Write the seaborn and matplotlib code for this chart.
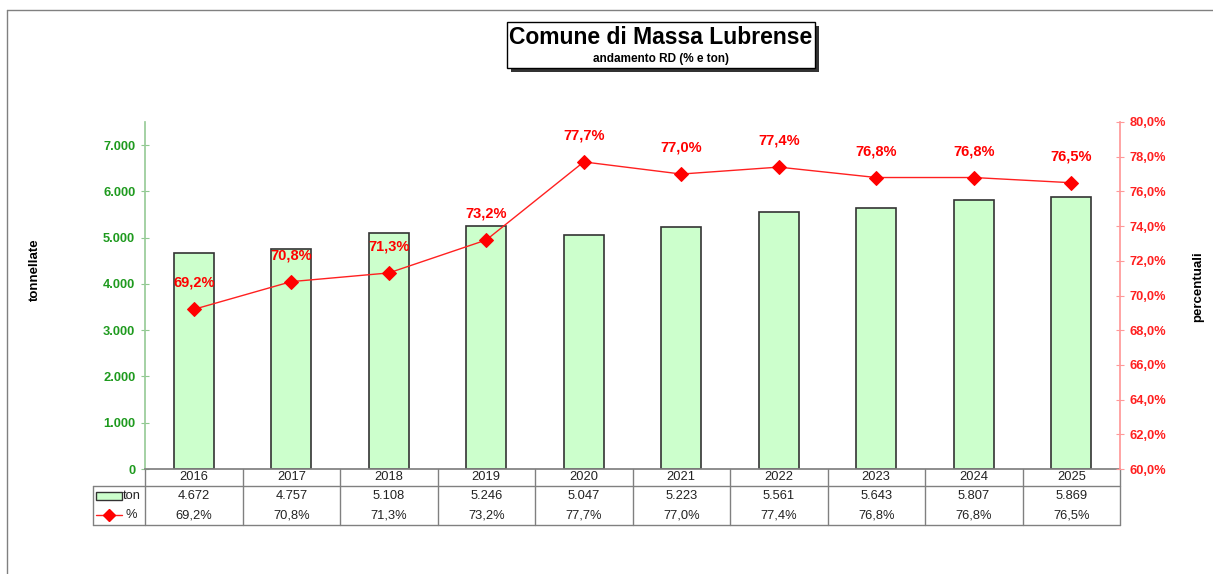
import matplotlib
matplotlib.use("Agg")
import matplotlib.pyplot as plt
import matplotlib.ticker as mticker
from matplotlib.patches import Rectangle
from matplotlib.lines import Line2D
import seaborn as sns
import pandas as pd
import numpy as np

years = ["2016", "2017", "2018", "2019", "2020", "2021", "2022", "2023", "2024", "2025"]
ton = [4672, 4757, 5108, 5246, 5047, 5223, 5561, 5643, 5807, 5869]
pct = [69.2, 70.8, 71.3, 73.2, 77.7, 77.0, 77.4, 76.8, 76.8, 76.5]
title = "Comune di Massa Lubrense"
subtitle = "andamento RD (% e ton)"

sns.set_theme(style="white")
plt.rcParams['font.family'] = ['Liberation Sans', 'DejaVu Sans']

W, H = 1213, 574
fig = plt.figure(figsize=(W / 100, H / 100), dpi=100)

# axes area in pixels
L, R, T, B = 145, 1120, 122, 469
ax = fig.add_axes([L / W, 1 - B / H, (R - L) / W, (B - T) / H])

def ax_x(px):
    return (px - L) / (R - L)

def ax_y(py):
    return (B - py) / (B - T)

df = pd.DataFrame({"year": years, "ton": ton, "pct": pct})
sns.barplot(data=df, x="year", y="ton", ax=ax, color="#CCFFCC", width=0.41,
            edgecolor="#333333", linewidth=1.2, saturation=1)
for p in ax.patches:
    p.set_facecolor("#CCFFCC")
ax.set_xlim(-0.5, len(years) - 0.5)
ax.set_ylim(0, 7500)
ax.set_yticks(np.arange(0, 7001, 1000))
ax.yaxis.set_major_formatter(mticker.FuncFormatter(lambda v, p: f"{int(v):,}".replace(",", ".")))
ax.tick_params(axis="y", color="#8FC88F", labelcolor="#1E9A1E", labelsize=9.3,
               direction="inout", length=6, width=0.8, pad=4)
for lab in ax.get_yticklabels():
    lab.set_fontweight("bold")
ax.set_xticks([])
ax.set_xlabel("")
ax.set_ylabel("")
ax.spines["left"].set_color("#99CC99")
ax.spines["top"].set_visible(False)
ax.spines["right"].set_visible(False)
ax.spines["bottom"].set_color("#808080")

ax2 = ax.twinx()
ax2.set_position(ax.get_position())
sns.lineplot(x=np.arange(len(years)), y=pct, ax=ax2, color="#FF2020", marker="D",
             markersize=7, markeredgecolor="#FF0000", markerfacecolor="#FF0000", linewidth=1.0)
ax2.set_ylim(60, 80)
ax2.set_yticks(np.arange(60, 80.1, 2))
ax2.yaxis.set_major_formatter(mticker.FuncFormatter(lambda v, p: f"{v:.1f}%".replace(".", ",")))
ax2.tick_params(axis="y", color="#FF9999", labelcolor="#FF2020", labelsize=9.3,
                direction="inout", length=6, width=0.8, pad=4)
for lab in ax2.get_yticklabels():
    lab.set_fontweight("bold")
ax2.spines["right"].set_color("#FF9999")
for s in ["left", "top", "bottom"]:
    ax2.spines[s].set_visible(False)
ax2.set_xlim(-0.5, len(years) - 0.5)
ax2.set_ylabel("")

for i, v in enumerate(pct):
    ax2.annotate(f"{v:.1f}%".replace(".", ","), (i, v), xytext=(0, 14), textcoords="offset points",
                 ha="center", va="bottom", color="#FF0000", fontsize=10.5, fontweight="bold")

# axis titles
fig.text(35 / W, 1 - 270 / H, "tonnellate", rotation=90, ha="center", va="center",
         fontsize=9.5, fontweight="bold", color="black")
fig.text(1198 / W, 1 - 287 / H, "percentuali", rotation=90, ha="center", va="center",
         fontsize=9.5, fontweight="bold", color="black")

# data table under the chart
lc = "#808080"
def hline(y, x0, x1):
    ax.add_line(Line2D([ax_x(x0), ax_x(x1)], [ax_y(y), ax_y(y)], transform=ax.transAxes,
                       color=lc, lw=1, clip_on=False))
def vline(x, y0, y1):
    ax.add_line(Line2D([ax_x(x), ax_x(x)], [ax_y(y0), ax_y(y1)], transform=ax.transAxes,
                       color=lc, lw=1, clip_on=False))

hline(486, 93, R)
hline(525, 93, R)
vline(93, 486, 525)
for k in range(len(years) + 1):
    vline(L + k * (R - L) / len(years), B, 525)

trans = ax.get_xaxis_transform()
for i, y in enumerate(years):
    ax.text(i, ax_y(477.5), y, transform=trans, ha="center", va="center", fontsize=9.3, color="#222222")
    ax.text(i, ax_y(496), f"{ton[i]:,}".replace(",", "."), transform=trans, ha="center",
            va="center", fontsize=9.3, color="#222222")
    ax.text(i, ax_y(515), f"{pct[i]:.1f}%".replace(".", ","), transform=trans, ha="center",
            va="center", fontsize=9.3, color="#222222")

# legend keys in the table
ax.add_patch(Rectangle((ax_x(96), ax_y(500)), ax_x(122) - ax_x(96), ax_y(492) - ax_y(500),
                       transform=ax.transAxes, facecolor="#CCFFCC", edgecolor="#333333",
                       lw=1, clip_on=False))
ax.text(ax_x(123), ax_y(496), "ton", transform=ax.transAxes, ha="left", va="center",
        fontsize=9.3, color="#222222")
ax.add_line(Line2D([ax_x(96), ax_x(122)], [ax_y(515), ax_y(515)], transform=ax.transAxes,
                   color="#FF2020", lw=1.0, marker=None, clip_on=False))
ax.add_line(Line2D([ax_x(109)], [ax_y(515)], transform=ax.transAxes, color="#FF0000",
                   marker="D", markersize=6, clip_on=False))
ax.text(ax_x(126), ax_y(515), "%", transform=ax.transAxes, ha="left", va="center",
        fontsize=9.3, color="#222222")

# outer frame
fig.add_artist(Line2D([7 / W, 7 / W], [0, 1 - 10 / H], color="#808080", lw=1))
fig.add_artist(Line2D([7 / W, 1], [1 - 10 / H, 1 - 10 / H], color="#808080", lw=1))

# title box with shadow
bx0, by0, bx1, by1 = 507, 22, 815, 68
fig.add_artist(Rectangle(((bx0 + 4) / W, 1 - (by1 + 4) / H), (bx1 - bx0) / W, (by1 - by0) / H,
                         facecolor="#333333", edgecolor="none"))
fig.add_artist(Rectangle((bx0 / W, 1 - by1 / H), (bx1 - bx0) / W, (by1 - by0) / H,
                         facecolor="white", edgecolor="black", lw=1))
fig.text((bx0 + bx1) / 2 / W, 1 - 38 / H, title, ha="center", va="center",
         fontsize=16.5, fontweight="bold", color="black")
fig.text((bx0 + bx1) / 2 / W, 1 - 59 / H, subtitle, ha="center", va="center",
         fontsize=8.5, fontweight="bold", color="black")

fig.savefig("out.png", dpi=100, facecolor="white")
